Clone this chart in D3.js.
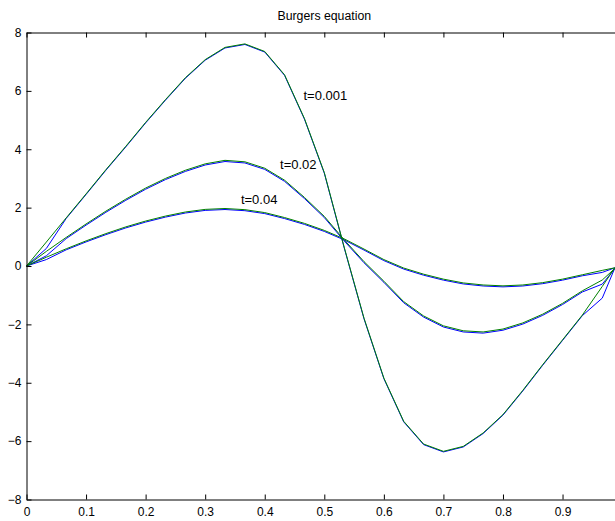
<!DOCTYPE html>
<html>
<head>
<meta charset="utf-8">
<script src="https://cdn.jsdelivr.net/npm/d3@7"></script>
<style>
  html, body { margin: 0; padding: 0; background: #fff; }
  svg { display: block; }
  text { font-family: "Liberation Sans", Arial, Helvetica, sans-serif; fill: #000; }
</style>
</head>
<body>
<svg id="chart" width="615" height="521"></svg>
<script>
// Grid points along x
const xGrid = [0, 0.0333, 0.0667, 0.1, 0.1333, 0.1667, 0.2, 0.2333, 0.2667, 0.3,
  0.3333, 0.3667, 0.4, 0.4333, 0.4667, 0.5, 0.5333, 0.5667, 0.6, 0.6333,
  0.6667, 0.7, 0.7333, 0.7667, 0.8, 0.8333, 0.8667, 0.9, 0.9333, 0.9667, 0.988];

// Numerical solution (blue) at each time
const numT001 = [0, 0.60, 1.63, 2.45, 3.28, 4.08, 4.90, 5.68, 6.43, 7.05,
  7.47, 7.59, 7.33, 6.53, 5.03, 3.18, 0.63, -1.81, -3.86, -5.34,
  -6.12, -6.37, -6.20, -5.74, -5.11, -4.28, -3.40, -2.55, -1.70, -1.10, -0.06];
const numT02 = [0, 0.35, 0.94, 1.40, 1.84, 2.25, 2.63, 2.96, 3.24, 3.46,
  3.58, 3.53, 3.31, 2.90, 2.31, 1.66, 0.86, 0.11, -0.56, -1.26,
  -1.75, -2.09, -2.26, -2.30, -2.20, -1.99, -1.69, -1.32, -0.89, -0.62, -0.08];
const numT04 = [0, 0.22, 0.555, 0.825, 1.075, 1.305, 1.505, 1.675, 1.815, 1.905,
  1.935, 1.895, 1.795, 1.625, 1.425, 1.185, 0.895, 0.545, 0.185, -0.105,
  -0.315, -0.485, -0.615, -0.685, -0.715, -0.685, -0.605, -0.485, -0.335, -0.22, -0.06];

// Exact solution (green) at each time
const exactT001 = [0, 0.82, 1.65, 2.47, 3.30, 4.10, 4.92, 5.70, 6.45, 7.07,
  7.49, 7.61, 7.35, 6.55, 5.05, 3.20, 0.65, -1.79, -3.84, -5.32,
  -6.10, -6.35, -6.18, -5.72, -5.09, -4.26, -3.38, -2.53, -1.68, -0.70, -0.06];
const exactT02 = [0, 0.50, 0.98, 1.44, 1.88, 2.29, 2.67, 3.00, 3.28, 3.50,
  3.62, 3.57, 3.35, 2.94, 2.35, 1.70, 0.90, 0.15, -0.52, -1.22,
  -1.71, -2.05, -2.22, -2.26, -2.16, -1.95, -1.65, -1.28, -0.85, -0.48, -0.08];
const exactT04 = [0, 0.30, 0.59, 0.86, 1.11, 1.34, 1.54, 1.71, 1.85, 1.94,
  1.97, 1.93, 1.83, 1.66, 1.46, 1.22, 0.93, 0.58, 0.22, -0.07,
  -0.28, -0.45, -0.58, -0.65, -0.68, -0.65, -0.57, -0.45, -0.30, -0.15, -0.06];

// Curve annotations: text and anchor in data units
const labelText = ["t=0.001", "t=0.02", "t=0.04"];
const labelX = [0.465, 0.4257, 0.360];
const labelY = [5.69, 3.31, 2.12];

// Axis ticks
const xTicks = [0, 0.1, 0.2, 0.3, 0.4, 0.5, 0.6, 0.7, 0.8, 0.9];
const xTickLabels = ["0", "0.1", "0.2", "0.3", "0.4", "0.5", "0.6", "0.7", "0.8", "0.9"];
const yTicks = [-8, -6, -4, -2, 0, 2, 4, 6, 8];
const yTickLabels = ["\u22128", "\u22126", "\u22124", "\u22122", "0", "2", "4", "6", "8"];

const title = "Burgers equation";

const svg = d3.select("#chart");
const plotLeft = 26.5, plotRight = 622.1, plotTop = 32.5, plotBottom = 499.5;

const x = d3.scaleLinear().domain([0, 1]).range([plotLeft, plotRight]);
const y = d3.scaleLinear().domain([-8, 8]).range([plotBottom, plotTop]);

const line = d3.line().x((d, i) => x(xGrid[i])).y(d => y(d));

// Blue first, green drawn over it
const numSeries = [numT001, numT02, numT04];
const exactSeries = [exactT001, exactT02, exactT04];

svg.append("g").selectAll("path.num").data(numSeries).join("path")
  .attr("class", "num")
  .attr("d", line)
  .attr("fill", "none")
  .attr("stroke", "#0000ff")
  .attr("stroke-width", 1);

svg.append("g").selectAll("path.exact").data(exactSeries).join("path")
  .attr("class", "exact")
  .attr("d", line)
  .attr("fill", "none")
  .attr("stroke", "#008000")
  .attr("stroke-width", 1);

// Axes box with inward ticks
const fmtX = d => xTickLabels[xTicks.indexOf(d)];
const fmtY = d => yTickLabels[yTicks.indexOf(d)];

svg.append("g").attr("transform", `translate(0,${plotBottom})`)
  .call(d3.axisBottom(x).tickValues(xTicks).tickFormat(fmtX)
    .tickSizeInner(-5).tickSizeOuter(0).tickPadding(8));
svg.append("g").attr("transform", `translate(0,${plotTop})`)
  .call(d3.axisTop(x).tickValues(xTicks).tickFormat("")
    .tickSizeInner(-5).tickSizeOuter(0));
svg.append("g").attr("transform", `translate(${plotLeft},0)`)
  .call(d3.axisLeft(y).tickValues(yTicks).tickFormat(fmtY)
    .tickSizeInner(-5).tickSizeOuter(0).tickPadding(5));
svg.append("g").attr("transform", `translate(${plotRight},0)`)
  .call(d3.axisRight(y).tickValues(yTicks).tickFormat("")
    .tickSizeInner(-5).tickSizeOuter(0));

svg.selectAll(".domain").attr("stroke", "#000").attr("stroke-width", 1);
svg.selectAll(".tick line").attr("stroke", "#000");
svg.selectAll(".tick text").attr("font-size", 12)
  .attr("font-family", "'Liberation Sans', Arial, Helvetica, sans-serif")
  .attr("fill", "#000");

// Title
svg.append("text")
  .attr("x", (plotLeft + plotRight) / 2)
  .attr("y", 20)
  .attr("text-anchor", "middle")
  .attr("font-size", 12.3)
  .text(title);

// Curve labels
svg.append("g").selectAll("text").data(labelText).join("text")
  .attr("x", (d, i) => x(labelX[i]))
  .attr("y", (d, i) => y(labelY[i]))
  .attr("font-size", 13)
  .text(d => d);
</script>
</body>
</html>
